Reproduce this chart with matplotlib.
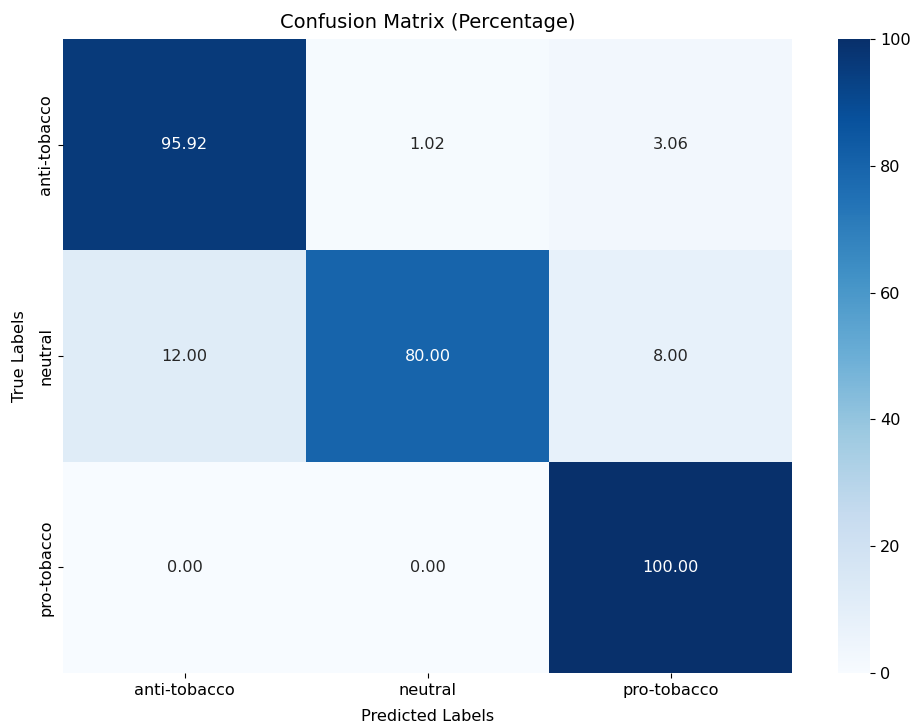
import numpy as np
import matplotlib
matplotlib.use("Agg")
import matplotlib.pyplot as plt
import seaborn as sns

labels = ["anti-tobacco", "neutral", "pro-tobacco"]
cm_percent = np.array([
    [95.92, 1.02, 3.06],
    [12.00, 80.00, 8.00],
    [0.00, 0.00, 100.00],
])

plt.rcParams["font.size"] = 11.6

fig = plt.figure(figsize=(9.17, 7.26), dpi=100)
ax = fig.add_axes([0.0687, 0.073, 0.795, 0.873])
cax = fig.add_axes([0.914, 0.073, 0.035, 0.873])

sns.heatmap(cm_percent, annot=True, fmt=".2f", cmap="Blues",
            xticklabels=labels, yticklabels=labels,
            annot_kws={"fontsize": 11.6},
            ax=ax, cbar_ax=cax)

ax.set_title("Confusion Matrix (Percentage)", fontsize=14, pad=8)
ax.set_xlabel("Predicted Labels", labelpad=8)
ax.set_ylabel("True Labels", labelpad=8)

fig.savefig("out.png", dpi=100)
